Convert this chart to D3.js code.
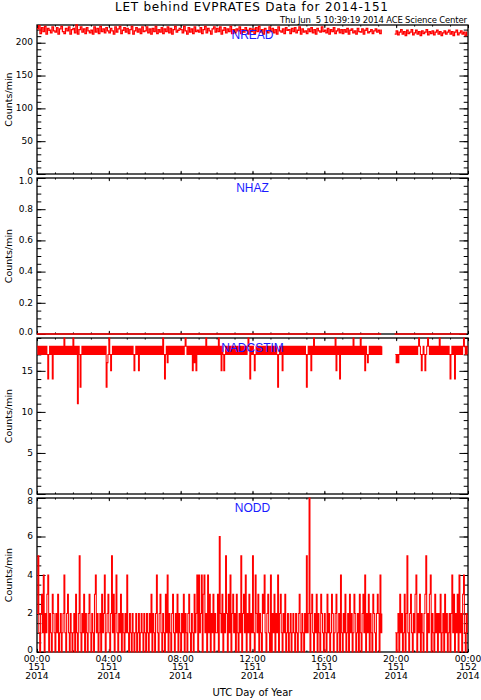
<!DOCTYPE html>
<html>
<head>
<meta charset="utf-8">
<script src="https://cdn.jsdelivr.net/npm/d3@7"></script>
<style>
  body { margin: 0; background: #fff; }
  svg { display: block; }
</style>
</head>
<body>
<div id="chart"></div>
<script>
// Samples start 2014 day 151 (May 31) 00:00 UTC
var sampleStart = Date.UTC(2014, 4, 31);

var panelNames = ["NREAD", "NHAZ", "NADCSTIM", "NODD"];
// minutes between samples for each series
var stepMinutes = [5, 5, 3, 3];

// 5-minute samples, one row per hour; null marks the data gap
var nread = [
    221,226,214,223,217,225,213,222,219,215,224,218,
    216,223,213,221,225,217,214,222,218,224,213,220,
    222,215,227,213,220,224,216,221,214,223,218,215,
    219,213,224,216,222,214,225,217,221,215,223,218,
    215,222,218,213,224,216,221,225,214,219,223,216,
    222,214,220,225,213,218,223,216,221,214,224,217,
    218,224,215,221,213,222,217,225,214,220,216,223,
    214,221,217,224,215,222,213,220,225,216,219,222,
    220,215,225,218,213,223,216,221,214,224,217,219,
    216,223,214,220,225,215,222,218,213,221,224,216,
    222,217,224,213,219,223,215,221,217,225,214,220,
    215,221,218,224,214,220,216,223,219,213,222,217,
    221,214,223,217,225,216,220,213,222,218,215,224,
    217,222,215,220,213,224,218,216,221,214,223,219,
    220,214,222,217,223,215,219,224,213,221,216,218,
    214,221,217,223,215,220,213,222,218,216,224,217,
    219,215,222,213,220,217,223,214,218,221,215,220,
    214,220,216,222,213,219,221,215,218,213,222,217,
    216,221,213,219,222,215,217,220,214,218,221,216,
    219,214,220,null,null,null,null,null,null,null,null,213,
    218,212,216,220,213,217,211,219,214,216,220,212,
    215,219,213,217,211,218,214,216,220,212,217,214,
    218,212,216,219,213,217,211,215,218,213,216,219,
    213,217,211,216,219,212,215,218,213,216,211,217
];

var nhaz = [
    0,0,0,0,0,0,0,0,0,0,0,0,
    0,0,0,0,0,0,0,0,0,0,0,0,
    0,0,0,0,0,0,0,0,0,0,0,0,
    0,0,0,0,0,0,0,0,0,0,0,0,
    0,0,0,0,0,0,0,0,0,0,0,0,
    0,0,0,0,0,0,0,0,0,0,0,0,
    0,0,0,0,0,0,0,0,0,0,0,0,
    0,0,0,0,0,0,0,0,0,0,0,0,
    0,0,0,0,0,0,0,0,0,0,0,0,
    0,0,0,0,0,0,0,0,0,0,0,0,
    0,0,0,0,0,0,0,0,0,0,0,0,
    0,0,0,0,0,0,0,0,0,0,0,0,
    0,0,0,0,0,0,0,0,0,0,0,0,
    0,0,0,0,0,0,0,0,0,0,0,0,
    0,0,0,0,0,0,0,0,0,0,0,0,
    0,0,0,0,0,0,0,0,0,0,0,0,
    0,0,0,0,0,0,0,0,0,0,0,0,
    0,0,0,0,0,0,0,0,0,0,0,0,
    0,0,0,0,0,0,0,0,0,0,0,0,
    0,0,0,null,null,null,null,null,null,null,null,0,
    0,0,0,0,0,0,0,0,0,0,0,0,
    0,0,0,0,0,0,0,0,0,0,0,0,
    0,0,0,0,0,0,0,0,0,0,0,0,
    0,0,0,0,0,0,0,0,0,0,0,0
];

// 3-minute samples, one row per hour
var nadcstim = [
    18,17,18,17,18,17,18,17,18,17,18,17,14,17,18,17,18,14,18,17,
    18,17,18,17,18,17,18,17,18,17,19,17,18,17,18,17,18,17,18,17,
    19,17,18,17,18,11,18,17,13,17,18,17,18,17,18,17,18,17,18,17,
    18,17,18,17,18,17,18,17,18,17,18,17,18,17,18,17,18,13,16,17,
    19,17,15,17,18,17,18,17,18,17,18,17,18,17,18,17,18,17,18,17,
    18,17,18,17,18,17,18,17,15,17,18,17,18,15,18,17,18,17,18,17,
    18,17,18,17,18,17,18,17,18,17,18,17,18,17,18,17,18,17,18,17,
    19,17,14,17,18,16,18,17,18,17,18,17,18,17,18,17,18,17,18,17,
    18,17,18,17,18,19,18,17,18,17,18,17,18,15,18,16,18,15,18,17,
    18,17,18,17,18,17,18,17,19,17,18,17,18,17,18,17,18,17,18,17,
    18,17,19,17,18,15,18,17,15,17,18,17,18,17,18,17,18,17,18,17,
    18,17,18,17,18,17,18,17,18,17,18,17,18,17,18,19,18,14,18,17,
    18,17,15,17,18,17,18,17,18,17,18,17,18,17,18,17,18,17,18,17,
    18,17,18,17,18,17,18,17,13,17,18,17,18,15,18,17,18,17,18,17,
    18,17,18,17,18,17,18,17,18,17,18,17,18,17,18,17,18,17,18,17,
    13,17,18,17,18,15,18,17,19,17,18,17,18,17,18,17,18,17,18,17,
    18,17,18,17,18,17,18,17,18,17,18,17,19,15,18,17,18,14,18,17,
    18,17,18,17,18,17,18,17,18,17,18,17,19,17,18,17,18,17,18,17,
    19,17,18,17,18,15,18,17,16,17,18,17,18,17,18,17,18,17,18,17,
    18,17,18,17,18,null,null,null,null,null,null,null,null,null,null,null,null,null,null,17,
    16,17,16,17,18,17,18,17,18,17,18,17,18,17,18,17,18,17,18,17,
    18,17,18,17,18,19,18,17,15,17,18,17,15,17,18,19,18,17,18,17,
    18,17,18,17,18,17,18,17,19,17,18,17,18,17,18,17,18,17,18,17,
    14,17,18,17,18,14,18,17,18,17,18,17,18,17,18,19,18,17,18,17
];

var nodd = [
    2,5,1,0,2,3,1,4,0,2,1,3,4,0,2,1,0,3,2,1,
    0,2,1,3,0,1,2,0,1,2,4,1,0,2,3,1,0,2,1,0,
    1,2,0,3,1,0,2,5,1,0,2,1,3,0,2,1,0,2,3,1,
    0,2,1,0,3,4,1,2,0,1,2,0,3,1,2,4,0,1,2,3,
    1,0,2,5,1,3,0,2,4,1,0,2,1,3,0,2,1,0,2,1,
    4,1,0,2,1,0,2,1,0,1,2,0,1,2,0,1,2,1,0,2,
    1,0,2,1,0,2,1,3,0,2,1,0,2,4,1,0,2,3,1,0,
    2,1,0,3,1,4,0,2,1,0,2,3,1,0,2,1,3,0,2,1,
    0,2,1,3,0,2,1,0,2,3,1,0,2,1,0,3,1,2,4,0,
    4,1,2,4,0,3,4,1,2,0,4,1,3,0,2,1,3,0,2,1,
    1,3,0,6,2,1,3,0,2,1,5,2,0,3,1,4,0,2,3,1,
    2,0,3,1,0,2,1,5,0,2,3,1,4,0,2,1,3,0,2,1,
    5,1,0,4,2,1,3,0,2,1,0,3,2,4,1,0,2,3,1,0,
    4,0,2,1,3,0,2,1,4,0,2,3,1,0,2,1,3,0,1,2,
    0,1,2,0,1,2,1,0,2,1,0,2,3,1,0,2,1,0,2,1,
    5,1,2,8,0,2,3,1,0,2,1,3,0,2,1,0,3,2,1,0,
    2,1,0,3,1,2,0,1,3,2,0,1,2,3,0,1,2,0,4,1,
    0,2,1,3,0,1,2,0,3,1,2,0,1,3,2,0,1,2,0,3,
    1,0,2,3,1,4,0,2,1,3,0,2,1,0,3,2,1,0,2,3,
    2,0,4,1,2,null,null,null,null,null,null,null,null,null,null,null,null,null,null,1,
    0,1,2,0,3,1,2,0,1,3,0,2,5,1,0,2,3,1,0,2,
    1,3,4,0,2,1,3,0,2,1,0,2,3,5,0,2,1,3,4,0,
    2,1,0,3,1,2,0,2,1,3,0,1,2,0,3,1,2,0,1,2,
    0,2,4,1,3,0,2,1,3,0,4,1,2,0,3,4,1,0,2,1
];

var series = [nread, nhaz, nadcstim, nodd];

// Y tick steps per panel
var yMajorStep = [50, 0.2, 5, 2];
var yMinorStep = [10, 0.05, 1, 0.5];

// Layout
var width = 481, height = 700;
var left = 37, right = 468;
var panelTops = [25, 178, 338, 498];
var panelBottoms = [174, 334, 494, 652];
var yTickLen = 8.6, xTickLen = 3.1;
var lineWidths = [1.3, 1.6, 1.05, 1.05];

var svg = d3.select("#chart")
    .append("svg")
    .attr("width", width)
    .attr("height", height)
    .style("font-family", "'DejaVu Sans', sans-serif");

var x = d3.scaleUtc()
    .domain([new Date(sampleStart), new Date(sampleStart + 24 * 3600 * 1000)])
    .range([left, right]);

var dayEnd = new Date(sampleStart + 24 * 3600 * 1000 + 1);
var hoursMajor = d3.utcHour.every(4).range(x.domain()[0], dayEnd);
var hoursMinor = d3.utcHour.every(1).range(x.domain()[0], dayEnd);

// Title and stamp
svg.append("text")
    .attr("x", 115)
    .attr("y", 10.5)
    .attr("textLength", 273)
    .attr("lengthAdjust", "spacing")
    .style("font-size", "12px")
    .text("LET behind EVPRATES Data for 2014-151");

svg.append("text")
    .attr("x", 280)
    .attr("y", 23)
    .attr("textLength", 187)
    .attr("lengthAdjust", "spacing")
    .style("font-size", "8.5px")
    .style("white-space", "pre")
    .text("Thu Jun  5 10:39:19 2014 ACE Science Center");

series.forEach(function(values, i) {
    var top = panelTops[i], bottom = panelBottoms[i];
    var ymax = d3.max(values) || 1;

    var y = d3.scaleLinear()
        .domain([0, ymax])
        .range([bottom, top]);

    var major = d3.range(0, ymax + 1e-9, yMajorStep[i]);
    var minor = d3.range(0, ymax + 1e-9, yMinorStep[i]);
    var fmt = i === 1 ? d3.format(".1f") : d3.format("d");

    var g = svg.append("g");

    // Y axes, ticks pointing inwards on both sides
    [[d3.axisLeft, left], [d3.axisRight, right]].forEach(function(side) {
        g.append("g")
            .attr("transform", "translate(" + side[1] + ",0)")
            .call(side[0](y).tickValues(minor).tickSize(-yTickLen / 2).tickFormat(""))
            .call(a => a.select(".domain").remove());
        g.append("g")
            .attr("transform", "translate(" + side[1] + ",0)")
            .call(side[0](y).tickValues(major).tickSize(-yTickLen).tickPadding(4)
                .tickFormat(side[1] === left ? fmt : ""))
            .attr("font-family", null)
            .attr("font-size", 9)
            .call(a => a.select(".domain").remove())
            // nudge the end labels inwards so neighbouring panels don't collide
            .call(a => a.selectAll("text").attr("dy", d =>
                d === 0 ? "0.05em" : (Math.abs(d - ymax) < 1e-9 ? "0.59em" : "0.25em")));
    });

    // X axes on top and bottom
    [[d3.axisBottom, bottom], [d3.axisTop, top]].forEach(function(side) {
        g.append("g")
            .attr("transform", "translate(0," + side[1] + ")")
            .call(side[0](x).tickValues(hoursMinor).tickSize(-xTickLen / 2).tickFormat(""))
            .call(a => a.select(".domain").remove());
        g.append("g")
            .attr("transform", "translate(0," + side[1] + ")")
            .call(side[0](x).tickValues(hoursMajor).tickSize(-xTickLen).tickFormat(""))
            .call(a => a.select(".domain").remove());
    });

    g.selectAll(".tick line").attr("stroke", "#000");

    // Panel frame
    g.append("rect")
        .attr("x", left)
        .attr("y", top)
        .attr("width", right - left)
        .attr("height", bottom - top)
        .attr("fill", "none")
        .attr("stroke", "#000")
        .attr("stroke-width", 1.3);

    // Data as a histogram-style step line
    var line = d3.line()
        .defined(d => d != null)
        .x((d, j) => x(new Date(sampleStart + j * stepMinutes[i] * 60000)))
        .y(d => y(d))
        .curve(d3.curveStepAfter);

    g.append("path")
        .datum(values)
        .attr("d", line)
        .attr("fill", "none")
        .attr("stroke", "#ff0000")
        .attr("stroke-width", lineWidths[i]);

    // Panel name
    g.append("text")
        .attr("x", (left + right) / 2)
        .attr("y", top + 14)
        .attr("text-anchor", "middle")
        .style("font-family", "'Liberation Sans', Arial, sans-serif")
        .style("font-size", "12px")
        .style("fill", "#1a1aff")
        .text(panelNames[i]);

    // Y title
    g.append("text")
        .attr("transform", "translate(11.5," + ((top + bottom) / 2) + ") rotate(-90)")
        .attr("text-anchor", "middle")
        .style("font-size", "9.5px")
        .text("Counts/min");
});

// Time labels under the last panel
var fmtTime = d3.utcFormat("%H:%M"),
    fmtDay = d3.utcFormat("%j"),
    fmtYear = d3.utcFormat("%Y");

var lab = svg.selectAll("timeLabel")
    .data(hoursMajor)
    .enter()
    .append("text")
    .attr("text-anchor", "middle")
    .style("font-size", "9.2px");

[[fmtTime, 661.5], [fmtDay, 670], [fmtYear, 678.5]].forEach(function(row) {
    lab.append("tspan")
        .attr("x", d => x(d))
        .attr("y", row[1])
        .text(d => row[0](d));
});

svg.append("text")
    .attr("x", (left + right) / 2)
    .attr("y", 696)
    .attr("text-anchor", "middle")
    .style("font-size", "10px")
    .text("UTC Day of Year");
</script>
</body>
</html>
